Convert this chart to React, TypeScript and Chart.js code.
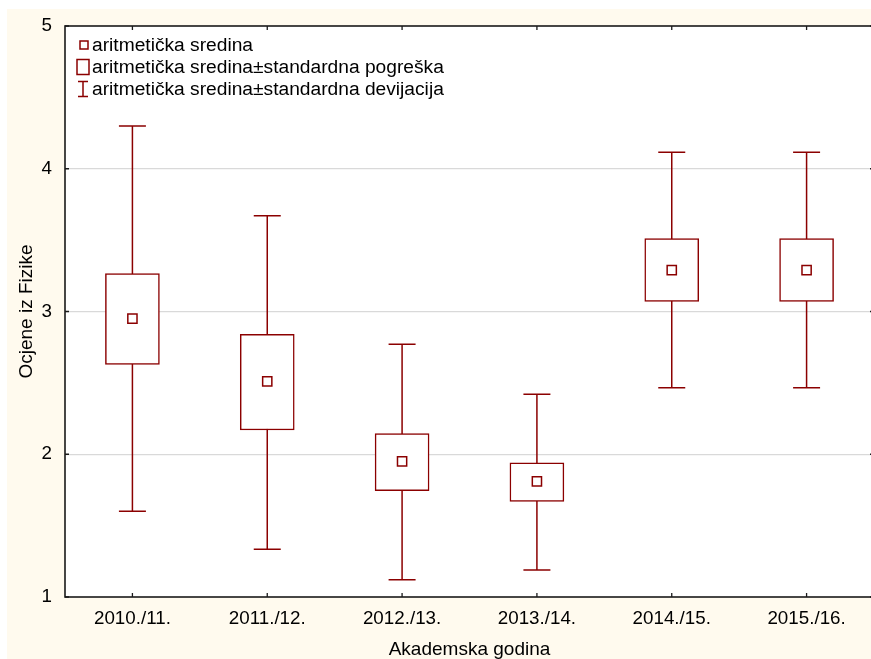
import React, { useEffect, useRef } from 'react';
import { Chart, registerables } from 'chart.js';

Chart.register(...registerables);

const categories = ['2010./11.', '2011./12.', '2012./13.', '2013./14.', '2014./15.', '2015./16.'];
const means = [2.95, 2.51, 1.95, 1.81, 3.29, 3.29];
const seLow = [2.63, 2.17, 1.745, 1.67, 3.07, 3.07];
const seHigh = [3.265, 2.84, 2.145, 1.94, 3.51, 3.51];
const sdLow = [1.6, 1.335, 1.12, 1.19, 2.465, 2.465];
const sdHigh = [4.3, 3.67, 2.77, 2.42, 4.115, 4.115];
const yTicks = [1, 2, 3, 4, 5];
const legendLabels = [
  'aritmetička sredina',
  'aritmetička sredina±standardna pogreška',
  'aritmetička sredina±standardna devijacija',
];
const xTitle = 'Akademska godina';
const yTitle = 'Ocjene iz Fizike';

const RED = '#8B0000';
const FONT = '"Liberation Sans", Arial, Helvetica, sans-serif';
const CAP = 27;
const BOX_W = 864;
const W = 868;
const H = 650;

export default function App() {
  const ref = useRef<HTMLCanvasElement>(null);

  useEffect(() => {
    if (!ref.current) return;

    const decor = {
      id: 'decor',
      beforeDraw(chart: any) {
        const { ctx, chartArea: a } = chart;
        ctx.save();
        ctx.fillStyle = '#ffffff';
        ctx.fillRect(a.left, a.top, a.right - a.left, a.bottom - a.top);
        ctx.restore();
      },
      beforeDatasetsDraw(chart: any) {
        const { ctx } = chart;
        const x = chart.scales.x;
        const y = chart.scales.y;
        ctx.save();
        ctx.strokeStyle = RED;
        ctx.lineWidth = 1.5;
        categories.forEach((_, i) => {
          const px = x.getPixelForValue(i);
          const yl = y.getPixelForValue(sdLow[i]);
          const yh = y.getPixelForValue(sdHigh[i]);
          ctx.beginPath();
          ctx.moveTo(px, yl);
          ctx.lineTo(px, yh);
          ctx.moveTo(px - CAP / 2, yl);
          ctx.lineTo(px + CAP / 2, yl);
          ctx.moveTo(px - CAP / 2, yh);
          ctx.lineTo(px + CAP / 2, yh);
          ctx.stroke();
        });
        ctx.restore();
      },
      afterDraw(chart: any) {
        const { ctx, chartArea: a } = chart;
        const x = chart.scales.x;
        const y = chart.scales.y;
        ctx.save();
        // frame
        ctx.strokeStyle = '#1a1a1a';
        ctx.lineWidth = 1.6;
        ctx.strokeRect(a.left, a.top, a.right - a.left, a.bottom - a.top);
        // inward ticks
        ctx.lineWidth = 1.3;
        ctx.beginPath();
        categories.forEach((_, i) => {
          const px = x.getPixelForValue(i);
          ctx.moveTo(px, a.bottom);
          ctx.lineTo(px, a.bottom - 4);
          ctx.moveTo(px, a.top);
          ctx.lineTo(px, a.top + 4);
        });
        yTicks.forEach((v) => {
          const py = y.getPixelForValue(v);
          ctx.moveTo(a.left, py);
          ctx.lineTo(a.left + 4, py);
          ctx.moveTo(a.right, py);
          ctx.lineTo(a.right - 4, py);
        });
        ctx.stroke();

        // legend
        const rowY = [36, 58, 80];
        ctx.strokeStyle = RED;
        ctx.lineWidth = 1.5;
        ctx.fillStyle = '#fff';
        ctx.beginPath();
        ctx.rect(73, rowY[0] - 4, 8, 8);
        ctx.fill();
        ctx.stroke();
        ctx.beginPath();
        ctx.rect(70, rowY[1] - 7.5, 12, 15);
        ctx.stroke();
        ctx.beginPath();
        ctx.moveTo(76, rowY[2] - 7.5);
        ctx.lineTo(76, rowY[2] + 7.5);
        ctx.moveTo(71, rowY[2] - 7.5);
        ctx.lineTo(81, rowY[2] - 7.5);
        ctx.moveTo(71, rowY[2] + 7.5);
        ctx.lineTo(81, rowY[2] + 7.5);
        ctx.stroke();

        ctx.fillStyle = '#000';
        ctx.font = `19.2px ${FONT}`;
        ctx.textBaseline = 'middle';
        ctx.textAlign = 'left';
        legendLabels.forEach((t, i) => {
          ctx.fillText(t, 85, rowY[i] + 1);
        });
        ctx.restore();
      },
    };

    const chart = new Chart(ref.current, {
      type: 'bar',
      data: {
        labels: categories,
        datasets: [
          {
            type: 'line',
            label: legendLabels[0],
            data: means,
            showLine: false,
            pointStyle: 'rect',
            pointRadius: 6.5,
            pointHoverRadius: 6.5,
            pointBorderColor: RED,
            pointBackgroundColor: '#ffffff',
            pointBorderWidth: 1.5,
            order: 0,
          } as any,
          {
            type: 'bar',
            label: legendLabels[1],
            data: seLow.map((l, i) => [l, seHigh[i]]),
            backgroundColor: '#ffffff',
            borderColor: RED,
            borderWidth: 1.5,
            borderSkipped: false,
            barThickness: 54,
            order: 1,
          } as any,
        ],
      },
      options: {
        animation: false,
        responsive: false,
        maintainAspectRatio: false,
        layout: { autoPadding: false, padding: { top: 17, right: 1, left: 0, bottom: 0 } },
        plugins: {
          legend: { display: false },
          tooltip: { enabled: false },
        },
        scales: {
          x: {
            grid: { display: false, drawTicks: false },
            border: { display: false },
            ticks: {
              color: '#000',
              padding: 11,
              font: { family: FONT, size: 18.8 },
            },
            title: {
              display: true,
              text: xTitle,
              color: '#000',
              font: { family: FONT, size: 19 },
              padding: { top: 0, bottom: -2 },
              align: 'center',
            },
            afterFit(scale: any) {
              scale.height = 62;
              scale.paddingLeft = 0;
              scale.paddingRight = 0;
              scale.paddingTop = 0;
              scale.paddingBottom = 0;
            },
          },
          y: {
            min: 1,
            max: 5,
            afterBuildTicks(scale: any) {
              scale.ticks = yTicks.map((v) => ({ value: v }));
            },
            grid: {
              drawTicks: false,
              color: (c: any) =>
                c.tick && (c.tick.value === 1 || c.tick.value === 5) ? 'rgba(0,0,0,0)' : '#d9d9d9',
              lineWidth: 1.2,
            },
            border: { display: false },
            ticks: {
              color: '#000',
              padding: 13,
              font: { family: FONT, size: 18.8 },
            },
            title: {
              display: true,
              text: yTitle,
              color: '#000',
              font: { family: FONT, size: 19 },
              padding: { top: 8, bottom: 0 },
            },
            afterFit(scale: any) {
              scale.width = 58;
              scale.paddingLeft = 0;
              scale.paddingRight = 0;
              scale.paddingTop = 0;
              scale.paddingBottom = 0;
            },
          },
        },
      },
      plugins: [decor],
    });

    return () => chart.destroy();
  }, []);

  return (
    <div
      style={{
        position: 'absolute',
        left: 7,
        top: 9,
        width: BOX_W,
        height: H,
        overflow: 'hidden',
        background: '#FFFAEE',
      }}
    >
      <canvas ref={ref} width={W} height={H} style={{ display: 'block', width: W, height: H }} />
    </div>
  );
}
